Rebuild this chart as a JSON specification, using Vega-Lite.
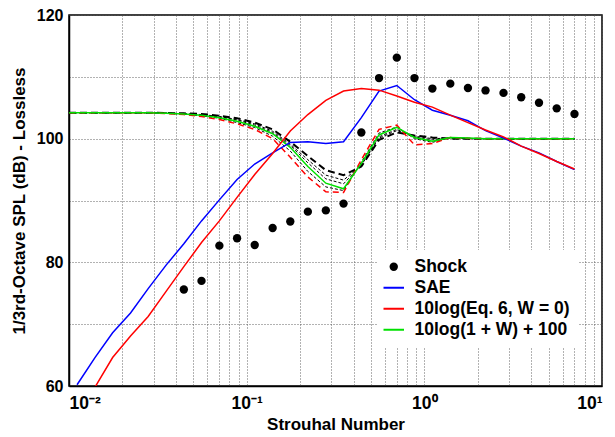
{
  "$schema": "https://vega.github.io/schema/vega-lite/v6.json",
  "width": 533,
  "height": 371,
  "autosize": {"type": "none"},
  "padding": {"left": 69, "top": 15, "right": 13, "bottom": 51},
  "background": "white",
  "config": {
    "font": "Liberation Sans",
    "view": {"stroke": "black", "strokeWidth": 1.5},
    "axis": {
      "labelFont": "Liberation Sans", "labelFontWeight": "bold", "labelFontSize": 16, "labelColor": "black",
      "titleFont": "Liberation Sans", "titleFontWeight": "bold", "titleFontSize": 17, "titleColor": "black",
      "domainColor": "black", "domainWidth": 1.5, "ticks": false,
      "grid": true, "gridColor": "#555", "gridDash": [1, 2], "gridWidth": 1, "gridOpacity": 0.9,
      "labelOverlap": false, "labelBound": false
    }
  },
  "data": {"values": [
    {"f": 0.01, "w100": 104.2, "k1": 104.2, "k2": 104.2, "k3": 104.2, "k4": 104.2, "rd": 104.2},
    {"f": 0.0111, "sae": 60.2, "eq6": 55.3, "w100": 104.2, "k1": 104.2, "k2": 104.2, "k3": 104.2, "k4": 104.2, "rd": 104.2},
    {"f": 0.014, "sae": 64.6, "eq6": 59.8, "w100": 104.2, "k1": 104.2, "k2": 104.2, "k3": 104.2, "k4": 104.2, "rd": 104.2},
    {"f": 0.0176, "sae": 68.6, "eq6": 64.6, "w100": 104.2, "k1": 104.2, "k2": 104.2, "k3": 104.2, "k4": 104.2, "rd": 104.2},
    {"f": 0.0222, "sae": 71.8, "eq6": 68.1, "w100": 104.2, "k1": 104.2, "k2": 104.2, "k3": 104.2, "k4": 104.2, "rd": 104.2},
    {"f": 0.0279, "sae": 75.75, "eq6": 71.25, "w100": 104.2, "k1": 104.2, "k2": 104.2, "k3": 104.2, "k4": 104.2, "rd": 104.2},
    {"f": 0.0352, "sae": 79.55, "eq6": 75.3, "w100": 104.1, "k1": 104.15, "k2": 104.15, "k3": 104.1, "k4": 104.1, "rd": 104.05},
    {"f": 0.0443, "sae": 83.0, "eq6": 79.3, "w100": 104.0, "k1": 104.1, "k2": 104.05, "k3": 104.0, "k4": 103.95, "rd": 103.9, "shock": 75.6},
    {"f": 0.0557, "sae": 86.7, "eq6": 83.2, "w100": 103.8, "k1": 104.0, "k2": 103.9, "k3": 103.85, "k4": 103.7, "rd": 103.6, "shock": 77.0},
    {"f": 0.0702, "sae": 90.1, "eq6": 86.7, "w100": 103.4, "k1": 103.7, "k2": 103.6, "k3": 103.5, "k4": 103.3, "rd": 103.1, "shock": 82.7},
    {"f": 0.0883, "sae": 93.4, "eq6": 90.5, "w100": 102.8, "k1": 103.3, "k2": 103.1, "k3": 103.0, "k4": 102.6, "rd": 102.4, "shock": 83.9},
    {"f": 0.111, "sae": 95.9, "eq6": 94.2, "w100": 102.0, "k1": 102.6, "k2": 102.4, "k3": 102.2, "k4": 101.8, "rd": 101.5, "shock": 82.8},
    {"f": 0.14, "sae": 97.7, "eq6": 97.6, "w100": 100.8, "k1": 101.5, "k2": 101.2, "k3": 101.0, "k4": 100.4, "rd": 100.0, "shock": 85.55},
    {"f": 0.176, "sae": 99.4, "eq6": 101.25, "w100": 98.6, "k1": 99.5, "k2": 99.1, "k3": 98.9, "k4": 98.0, "rd": 97.0, "shock": 86.6},
    {"f": 0.221, "sae": 99.5, "eq6": 103.9, "w100": 95.5, "k1": 97.2, "k2": 96.6, "k3": 96.1, "k4": 94.7, "rd": 93.8, "shock": 88.2},
    {"f": 0.279, "sae": 99.2, "eq6": 106.2, "w100": 92.8, "k1": 94.9, "k2": 94.1, "k3": 93.5, "k4": 92.2, "rd": 91.4, "shock": 88.4},
    {"f": 0.351, "sae": 99.5, "eq6": 107.7, "w100": 91.9, "k1": 94.1, "k2": 93.3, "k3": 92.7, "k4": 91.6, "rd": 91.3, "shock": 89.5},
    {"f": 0.442, "sae": 103.4, "eq6": 108.1, "w100": 96.0, "k1": 95.5, "k2": 95.7, "k3": 95.8, "k4": 96.2, "rd": 96.6, "shock": 101.0},
    {"f": 0.556, "sae": 107.7, "eq6": 107.85, "w100": 100.6, "k1": 99.8, "k2": 100.1, "k3": 100.3, "k4": 100.9, "rd": 101.5, "shock": 109.8},
    {"f": 0.7, "sae": 108.6, "eq6": 106.9, "w100": 101.85, "k1": 101.0, "k2": 101.3, "k3": 101.5, "k4": 101.9, "rd": 102.2, "shock": 113.1},
    {"f": 0.88, "sae": 106.3, "eq6": 105.9, "w100": 100.2, "k1": 100.5, "k2": 100.4, "k3": 100.3, "k4": 100.0, "rd": 99.0, "shock": 109.8},
    {"f": 1.11, "sae": 104.6, "eq6": 105.1, "w100": 99.6, "k1": 100.2, "k2": 100.0, "k3": 99.8, "k4": 99.4, "rd": 99.2, "shock": 108.1},
    {"f": 1.4, "sae": 103.8, "eq6": 103.8, "w100": 100.2, "k1": 100.0, "k2": 100.1, "k3": 100.1, "k4": 100.2, "rd": 100.2, "shock": 108.9},
    {"f": 1.76, "sae": 102.9, "eq6": 102.6, "w100": 100.1, "k1": 100.0, "k2": 100.0, "k3": 100.0, "k4": 100.05, "rd": 100.05, "shock": 108.2},
    {"f": 2.21, "sae": 101.3, "eq6": 101.4, "w100": 100.0, "k1": 100.0, "k2": 100.0, "k3": 100.0, "k4": 100.0, "rd": 100.0, "shock": 107.8},
    {"f": 2.79, "sae": 100.1, "eq6": 100.3, "w100": 100.0, "k1": 100.0, "k2": 100.0, "k3": 100.0, "k4": 100.0, "rd": 100.0, "shock": 107.4},
    {"f": 3.51, "sae": 98.8, "eq6": 98.8, "w100": 100.0, "k1": 100.0, "k2": 100.0, "k3": 100.0, "k4": 100.0, "rd": 100.0, "shock": 106.7},
    {"f": 4.42, "sae": 97.7, "eq6": 97.6, "w100": 100.0, "k1": 100.0, "k2": 100.0, "k3": 100.0, "k4": 100.0, "rd": 100.0, "shock": 105.8},
    {"f": 5.56, "sae": 96.3, "eq6": 96.3, "w100": 100.0, "k1": 100.0, "k2": 100.0, "k3": 100.0, "k4": 100.0, "rd": 100.0, "shock": 104.9},
    {"f": 7.0, "sae": 95.0, "eq6": 95.1, "w100": 100.0, "k1": 100.0, "k2": 100.0, "k3": 100.0, "k4": 100.0, "rd": 100.0, "shock": 104.0}
  ]},
  "encoding": {
    "x": {
      "field": "f", "type": "quantitative",
      "scale": {"type": "log", "domain": [0.01, 10], "nice": false},
      "axis": {
        "title": "Strouhal Number", "titlePadding": 5,
        "values": [0.01, 0.02, 0.03, 0.04, 0.05, 0.06, 0.07, 0.08, 0.09, 0.1, 0.2, 0.3, 0.4, 0.5, 0.6, 0.7, 0.8, 0.9, 1, 2, 3, 4, 5, 6, 7, 8, 9, 10],
        "labelExpr": "datum.value == 0.01 ? '10⁻²' : datum.value == 0.1 ? '10⁻¹' : datum.value == 1 ? '10⁰' : datum.value == 10 ? '10¹' : ''",
        "labelPadding": 8, "labelFontSize": 17.5
      }
    }
  },
  "layer": [
    {
      "transform": [{"fold": ["k1"], "as": ["s", "v"]}],
      "mark": {"type": "line", "color": "black", "strokeWidth": 2, "strokeDash": [7, 4]},
      "encoding": {
        "y": {"field": "v", "type": "quantitative", "scale": {"domain": [60, 120], "nice": false},
          "axis": {"title": "1/3rd-Octave SPL (dB) - Lossless", "titlePadding": 8, "labelPadding": 6,
            "values": [60, 70, 80, 90, 100, 110, 120],
            "labelExpr": "datum.value % 20 == 0 ? datum.label : ''"}},
        "detail": {"field": "s"}
      }
    },
    {
      "transform": [{"fold": ["k2", "k3", "k4"], "as": ["s", "v"]}],
      "mark": {"type": "line", "color": "black", "strokeWidth": 1, "strokeDash": [3, 2]},
      "encoding": {
        "y": {"field": "v", "type": "quantitative"},
        "detail": {"field": "s"}
      }
    },
    {
      "transform": [{"fold": ["rd"], "as": ["s", "v"]}],
      "mark": {"type": "line", "color": "#ff0000", "strokeWidth": 1.5, "strokeDash": [6, 4]},
      "encoding": {
        "y": {"field": "v", "type": "quantitative"},
        "detail": {"field": "s"}
      }
    },
    {
      "transform": [{"fold": ["sae", "eq6", "w100"], "as": ["s", "v"]}, {"filter": "datum.v != null"}],
      "mark": {"type": "line", "strokeWidth": 1.5, "clip": true},
      "encoding": {
        "y": {"field": "v", "type": "quantitative"},
        "color": {
          "field": "s", "type": "nominal",
          "scale": {"domain": ["shock", "sae", "eq6", "w100"], "range": ["black", "#0000ff", "#ff0000", "#00e000"]},
          "legend": {
            "title": null, "orient": "none", "legendX": 308, "legendY": 235,
            "fillColor": "white", "padding": 8,
            "labelFont": "Liberation Sans", "labelFontSize": 17.5, "labelFontWeight": "bold", "labelColor": "black",
            "labelLimit": 300, "labelOffset": 12, "rowPadding": 2,
            "symbolType": "stroke", "symbolSize": 420, "symbolStrokeWidth": 2,
            "labelExpr": "{'shock': 'Shock', 'sae': 'SAE', 'eq6': '10log(Eq. 6, W = 0)', 'w100': '10log(1 + W) + 100'}[datum.value]",
            "encode": {"symbols": {"update": {
              "shape": {"signal": "datum.value === 'shock' ? 'circle' : 'stroke'"},
              "size": {"signal": "datum.value === 'shock' ? 70 : 420"},
              "fill": {"signal": "datum.value === 'shock' ? 'black' : 'transparent'"},
              "strokeWidth": {"signal": "datum.value === 'shock' ? 0 : 2"}
            }}}
          }
        }
      }
    },
    {
      "transform": [{"filter": "datum.shock != null"}],
      "mark": {"type": "point", "filled": true, "color": "black", "size": 70, "opacity": 1},
      "encoding": {
        "y": {"field": "shock", "type": "quantitative"}
      }
    }
  ]
}
